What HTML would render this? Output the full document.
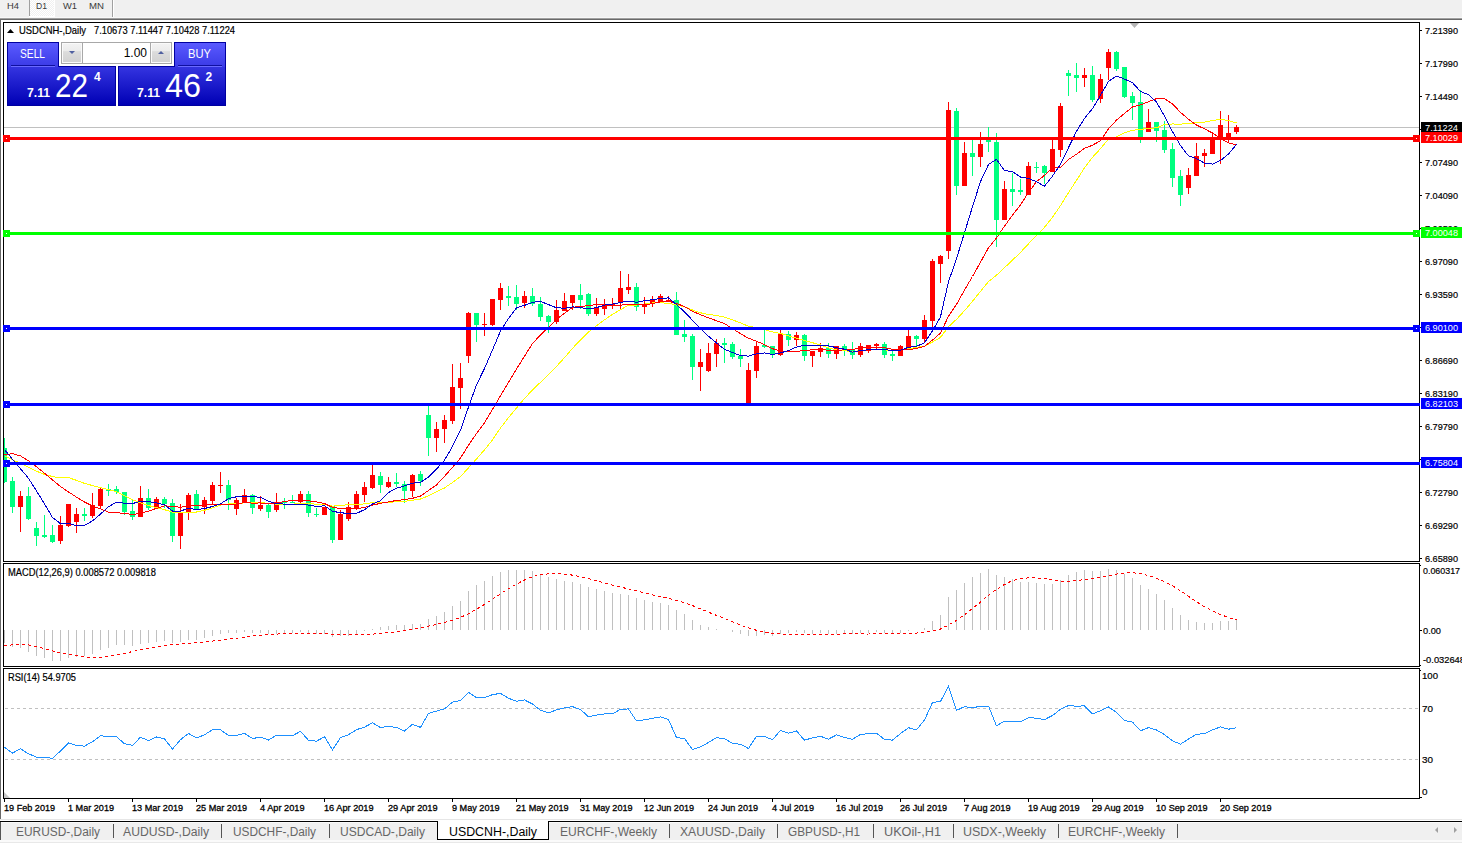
<!DOCTYPE html><html><head><meta charset="utf-8"><title>USDCNH-,Daily</title><style>html,body{margin:0;padding:0;width:1462px;height:843px;overflow:hidden;background:#fff}svg{display:block}</style></head><body>
<svg width="1462" height="843" viewBox="0 0 1462 843" shape-rendering="crispEdges">
<defs><pattern id="dith" width="2" height="2" patternUnits="userSpaceOnUse"><rect width="2" height="2" fill="#f0f0f0"/><rect width="1" height="1" fill="#fff"/><rect x="1" y="1" width="1" height="1" fill="#fff"/></pattern><linearGradient id="gh" x1="0" y1="0" x2="0" y2="1"><stop offset="0" stop-color="#5a5aff"/><stop offset="1" stop-color="#3a3ae6"/></linearGradient><linearGradient id="gp" x1="0" y1="0" x2="0" y2="1"><stop offset="0" stop-color="#3434e0"/><stop offset="1" stop-color="#0000b4"/></linearGradient><linearGradient id="gs" x1="0" y1="0" x2="0" y2="1"><stop offset="0" stop-color="#f2f2f2"/><stop offset="0.4" stop-color="#ebebeb"/><stop offset="0.42" stop-color="#dcdcdc"/><stop offset="1" stop-color="#d2d2d2"/></linearGradient><clipPath id="cm"><rect x="4" y="23" width="1415" height="538"/></clipPath><clipPath id="cmacd"><rect x="4" y="564" width="1415" height="102"/></clipPath><clipPath id="crsi"><rect x="4" y="669" width="1415" height="129"/></clipPath></defs>
<rect x="0" y="0" width="1462" height="17" fill="#f0f0f0" />
<rect x="0" y="17" width="1462" height="1" fill="#f7f7f7" />
<rect x="0" y="18" width="1462" height="1" fill="#a0a0a0" />
<rect x="0" y="19" width="1462" height="1" fill="#696969" />
<rect x="29" y="0" width="1" height="16" fill="#a0a0a0" />
<rect x="30" y="0" width="24" height="16" fill="url(#dith)" />
<rect x="54" y="0" width="1" height="17" fill="#fff" />
<rect x="29" y="16" width="26" height="1" fill="#fff" />
<rect x="112" y="0" width="1" height="17" fill="#a0a0a0" />
<rect x="113" y="0" width="1" height="17" fill="#fff" />
<text x="7" y="9.4" font-family="Liberation Sans, Arial, sans-serif" font-size="9.6" fill="#3a3a3a" textLength="12" lengthAdjust="spacingAndGlyphs">H4</text>
<text x="36" y="9.4" font-family="Liberation Sans, Arial, sans-serif" font-size="9.6" fill="#3a3a3a" textLength="11" lengthAdjust="spacingAndGlyphs">D1</text>
<text x="63" y="9.4" font-family="Liberation Sans, Arial, sans-serif" font-size="9.6" fill="#3a3a3a" textLength="14" lengthAdjust="spacingAndGlyphs">W1</text>
<text x="89" y="9.4" font-family="Liberation Sans, Arial, sans-serif" font-size="9.6" fill="#3a3a3a" textLength="15" lengthAdjust="spacingAndGlyphs">MN</text>
<rect x="0" y="20" width="1462" height="799" fill="#fff" />
<rect x="0" y="19" width="1" height="800" fill="#696969" />
<rect x="3.5" y="22.5" width="1416" height="539" fill="none" stroke="#000" stroke-width="1"/>
<rect x="3.5" y="563.5" width="1416" height="103" fill="none" stroke="#000" stroke-width="1"/>
<rect x="3.5" y="668.5" width="1416" height="130" fill="none" stroke="#000" stroke-width="1"/>
<rect x="1420" y="30" width="2" height="1" fill="#000" />
<text x="1425" y="34" font-family="Liberation Sans, Arial, sans-serif" font-size="9.6" fill="#000" stroke="#000" stroke-width="0.2" textLength="33" lengthAdjust="spacingAndGlyphs">7.21390</text>
<rect x="1420" y="63" width="2" height="1" fill="#000" />
<text x="1425" y="67" font-family="Liberation Sans, Arial, sans-serif" font-size="9.6" fill="#000" stroke="#000" stroke-width="0.2" textLength="33" lengthAdjust="spacingAndGlyphs">7.17990</text>
<rect x="1420" y="96" width="2" height="1" fill="#000" />
<text x="1425" y="100" font-family="Liberation Sans, Arial, sans-serif" font-size="9.6" fill="#000" stroke="#000" stroke-width="0.2" textLength="33" lengthAdjust="spacingAndGlyphs">7.14490</text>
<rect x="1420" y="129" width="2" height="1" fill="#000" />
<text x="1425" y="133" font-family="Liberation Sans, Arial, sans-serif" font-size="9.6" fill="#000" stroke="#000" stroke-width="0.2" textLength="33" lengthAdjust="spacingAndGlyphs">7.10990</text>
<rect x="1420" y="162" width="2" height="1" fill="#000" />
<text x="1425" y="166" font-family="Liberation Sans, Arial, sans-serif" font-size="9.6" fill="#000" stroke="#000" stroke-width="0.2" textLength="33" lengthAdjust="spacingAndGlyphs">7.07490</text>
<rect x="1420" y="195" width="2" height="1" fill="#000" />
<text x="1425" y="199" font-family="Liberation Sans, Arial, sans-serif" font-size="9.6" fill="#000" stroke="#000" stroke-width="0.2" textLength="33" lengthAdjust="spacingAndGlyphs">7.04090</text>
<rect x="1420" y="228" width="2" height="1" fill="#000" />
<text x="1425" y="232" font-family="Liberation Sans, Arial, sans-serif" font-size="9.6" fill="#000" stroke="#000" stroke-width="0.2" textLength="33" lengthAdjust="spacingAndGlyphs">7.00590</text>
<rect x="1420" y="261" width="2" height="1" fill="#000" />
<text x="1425" y="265" font-family="Liberation Sans, Arial, sans-serif" font-size="9.6" fill="#000" stroke="#000" stroke-width="0.2" textLength="33" lengthAdjust="spacingAndGlyphs">6.97090</text>
<rect x="1420" y="294" width="2" height="1" fill="#000" />
<text x="1425" y="298" font-family="Liberation Sans, Arial, sans-serif" font-size="9.6" fill="#000" stroke="#000" stroke-width="0.2" textLength="33" lengthAdjust="spacingAndGlyphs">6.93590</text>
<rect x="1420" y="327" width="2" height="1" fill="#000" />
<text x="1425" y="331" font-family="Liberation Sans, Arial, sans-serif" font-size="9.6" fill="#000" stroke="#000" stroke-width="0.2" textLength="33" lengthAdjust="spacingAndGlyphs">6.90190</text>
<rect x="1420" y="360" width="2" height="1" fill="#000" />
<text x="1425" y="364" font-family="Liberation Sans, Arial, sans-serif" font-size="9.6" fill="#000" stroke="#000" stroke-width="0.2" textLength="33" lengthAdjust="spacingAndGlyphs">6.86690</text>
<rect x="1420" y="393" width="2" height="1" fill="#000" />
<text x="1425" y="397" font-family="Liberation Sans, Arial, sans-serif" font-size="9.6" fill="#000" stroke="#000" stroke-width="0.2" textLength="33" lengthAdjust="spacingAndGlyphs">6.83190</text>
<rect x="1420" y="426" width="2" height="1" fill="#000" />
<text x="1425" y="430" font-family="Liberation Sans, Arial, sans-serif" font-size="9.6" fill="#000" stroke="#000" stroke-width="0.2" textLength="33" lengthAdjust="spacingAndGlyphs">6.79790</text>
<rect x="1420" y="459" width="2" height="1" fill="#000" />
<text x="1425" y="463" font-family="Liberation Sans, Arial, sans-serif" font-size="9.6" fill="#000" stroke="#000" stroke-width="0.2" textLength="33" lengthAdjust="spacingAndGlyphs">6.76290</text>
<rect x="1420" y="492" width="2" height="1" fill="#000" />
<text x="1425" y="496" font-family="Liberation Sans, Arial, sans-serif" font-size="9.6" fill="#000" stroke="#000" stroke-width="0.2" textLength="33" lengthAdjust="spacingAndGlyphs">6.72790</text>
<rect x="1420" y="525" width="2" height="1" fill="#000" />
<text x="1425" y="529" font-family="Liberation Sans, Arial, sans-serif" font-size="9.6" fill="#000" stroke="#000" stroke-width="0.2" textLength="33" lengthAdjust="spacingAndGlyphs">6.69290</text>
<rect x="1420" y="558" width="2" height="1" fill="#000" />
<text x="1425" y="562" font-family="Liberation Sans, Arial, sans-serif" font-size="9.6" fill="#000" stroke="#000" stroke-width="0.2" textLength="33" lengthAdjust="spacingAndGlyphs">6.65890</text>
<rect x="4" y="799" width="1" height="3" fill="#000" />
<text x="4" y="811.3" font-family="Liberation Sans, Arial, sans-serif" font-size="9.4" fill="#000" stroke="#000" stroke-width="0.3" textLength="51.1" lengthAdjust="spacingAndGlyphs">19 Feb 2019</text>
<rect x="68" y="799" width="1" height="3" fill="#000" />
<text x="68" y="811.3" font-family="Liberation Sans, Arial, sans-serif" font-size="9.4" fill="#000" stroke="#000" stroke-width="0.3" textLength="46.0" lengthAdjust="spacingAndGlyphs">1 Mar 2019</text>
<rect x="132" y="799" width="1" height="3" fill="#000" />
<text x="132" y="811.3" font-family="Liberation Sans, Arial, sans-serif" font-size="9.4" fill="#000" stroke="#000" stroke-width="0.3" textLength="51.1" lengthAdjust="spacingAndGlyphs">13 Mar 2019</text>
<rect x="196" y="799" width="1" height="3" fill="#000" />
<text x="196" y="811.3" font-family="Liberation Sans, Arial, sans-serif" font-size="9.4" fill="#000" stroke="#000" stroke-width="0.3" textLength="51.1" lengthAdjust="spacingAndGlyphs">25 Mar 2019</text>
<rect x="260" y="799" width="1" height="3" fill="#000" />
<text x="260" y="811.3" font-family="Liberation Sans, Arial, sans-serif" font-size="9.4" fill="#000" stroke="#000" stroke-width="0.3" textLength="44.5" lengthAdjust="spacingAndGlyphs">4 Apr 2019</text>
<rect x="324" y="799" width="1" height="3" fill="#000" />
<text x="324" y="811.3" font-family="Liberation Sans, Arial, sans-serif" font-size="9.4" fill="#000" stroke="#000" stroke-width="0.3" textLength="49.6" lengthAdjust="spacingAndGlyphs">16 Apr 2019</text>
<rect x="388" y="799" width="1" height="3" fill="#000" />
<text x="388" y="811.3" font-family="Liberation Sans, Arial, sans-serif" font-size="9.4" fill="#000" stroke="#000" stroke-width="0.3" textLength="49.6" lengthAdjust="spacingAndGlyphs">29 Apr 2019</text>
<rect x="452" y="799" width="1" height="3" fill="#000" />
<text x="452" y="811.3" font-family="Liberation Sans, Arial, sans-serif" font-size="9.4" fill="#000" stroke="#000" stroke-width="0.3" textLength="47.6" lengthAdjust="spacingAndGlyphs">9 May 2019</text>
<rect x="516" y="799" width="1" height="3" fill="#000" />
<text x="516" y="811.3" font-family="Liberation Sans, Arial, sans-serif" font-size="9.4" fill="#000" stroke="#000" stroke-width="0.3" textLength="52.6" lengthAdjust="spacingAndGlyphs">21 May 2019</text>
<rect x="580" y="799" width="1" height="3" fill="#000" />
<text x="580" y="811.3" font-family="Liberation Sans, Arial, sans-serif" font-size="9.4" fill="#000" stroke="#000" stroke-width="0.3" textLength="52.6" lengthAdjust="spacingAndGlyphs">31 May 2019</text>
<rect x="644" y="799" width="1" height="3" fill="#000" />
<text x="644" y="811.3" font-family="Liberation Sans, Arial, sans-serif" font-size="9.4" fill="#000" stroke="#000" stroke-width="0.3" textLength="50.1" lengthAdjust="spacingAndGlyphs">12 Jun 2019</text>
<rect x="708" y="799" width="1" height="3" fill="#000" />
<text x="708" y="811.3" font-family="Liberation Sans, Arial, sans-serif" font-size="9.4" fill="#000" stroke="#000" stroke-width="0.3" textLength="50.1" lengthAdjust="spacingAndGlyphs">24 Jun 2019</text>
<rect x="772" y="799" width="1" height="3" fill="#000" />
<text x="772" y="811.3" font-family="Liberation Sans, Arial, sans-serif" font-size="9.4" fill="#000" stroke="#000" stroke-width="0.3" textLength="42.0" lengthAdjust="spacingAndGlyphs">4 Jul 2019</text>
<rect x="836" y="799" width="1" height="3" fill="#000" />
<text x="836" y="811.3" font-family="Liberation Sans, Arial, sans-serif" font-size="9.4" fill="#000" stroke="#000" stroke-width="0.3" textLength="47.1" lengthAdjust="spacingAndGlyphs">16 Jul 2019</text>
<rect x="900" y="799" width="1" height="3" fill="#000" />
<text x="900" y="811.3" font-family="Liberation Sans, Arial, sans-serif" font-size="9.4" fill="#000" stroke="#000" stroke-width="0.3" textLength="47.1" lengthAdjust="spacingAndGlyphs">26 Jul 2019</text>
<rect x="964" y="799" width="1" height="3" fill="#000" />
<text x="964" y="811.3" font-family="Liberation Sans, Arial, sans-serif" font-size="9.4" fill="#000" stroke="#000" stroke-width="0.3" textLength="46.6" lengthAdjust="spacingAndGlyphs">7 Aug 2019</text>
<rect x="1028" y="799" width="1" height="3" fill="#000" />
<text x="1028" y="811.3" font-family="Liberation Sans, Arial, sans-serif" font-size="9.4" fill="#000" stroke="#000" stroke-width="0.3" textLength="51.6" lengthAdjust="spacingAndGlyphs">19 Aug 2019</text>
<rect x="1092" y="799" width="1" height="3" fill="#000" />
<text x="1092" y="811.3" font-family="Liberation Sans, Arial, sans-serif" font-size="9.4" fill="#000" stroke="#000" stroke-width="0.3" textLength="51.6" lengthAdjust="spacingAndGlyphs">29 Aug 2019</text>
<rect x="1156" y="799" width="1" height="3" fill="#000" />
<text x="1156" y="811.3" font-family="Liberation Sans, Arial, sans-serif" font-size="9.4" fill="#000" stroke="#000" stroke-width="0.3" textLength="51.6" lengthAdjust="spacingAndGlyphs">10 Sep 2019</text>
<rect x="1220" y="799" width="1" height="3" fill="#000" />
<text x="1220" y="811.3" font-family="Liberation Sans, Arial, sans-serif" font-size="9.4" fill="#000" stroke="#000" stroke-width="0.3" textLength="51.6" lengthAdjust="spacingAndGlyphs">20 Sep 2019</text>
<g clip-path="url(#cm)">
<rect x="4" y="127" width="1415" height="1" fill="#c0c0c0" />
<rect x="4" y="438" width="1" height="45" fill="#00ff7f" />
<rect x="2" y="448" width="5" height="34" fill="#00ff7f" />
<rect x="12" y="477" width="1" height="36" fill="#00ff7f" />
<rect x="10" y="481" width="5" height="26" fill="#00ff7f" />
<rect x="20" y="491" width="1" height="41" fill="#ff0000" />
<rect x="18" y="496" width="5" height="11" fill="#ff0000" />
<rect x="28" y="487" width="1" height="33" fill="#00ff7f" />
<rect x="26" y="496" width="5" height="23" fill="#00ff7f" />
<rect x="36" y="522" width="1" height="24" fill="#00ff7f" />
<rect x="34" y="528" width="5" height="8" fill="#00ff7f" />
<rect x="44" y="515" width="1" height="23" fill="#00ff7f" />
<rect x="42" y="535" width="5" height="2" fill="#00ff7f" />
<rect x="52" y="525" width="1" height="18" fill="#00ff7f" />
<rect x="50" y="535" width="5" height="7" fill="#00ff7f" />
<rect x="60" y="516" width="1" height="28" fill="#ff0000" />
<rect x="58" y="525" width="5" height="16" fill="#ff0000" />
<rect x="68" y="504" width="1" height="23" fill="#ff0000" />
<rect x="66" y="504" width="5" height="22" fill="#ff0000" />
<rect x="76" y="508" width="1" height="25" fill="#ff0000" />
<rect x="74" y="514" width="5" height="8" fill="#ff0000" />
<rect x="84" y="508" width="1" height="13" fill="#00ff7f" />
<rect x="82" y="514" width="5" height="2" fill="#00ff7f" />
<rect x="92" y="493" width="1" height="25" fill="#ff0000" />
<rect x="90" y="505" width="5" height="11" fill="#ff0000" />
<rect x="100" y="487" width="1" height="22" fill="#ff0000" />
<rect x="98" y="489" width="5" height="17" fill="#ff0000" />
<rect x="108" y="484" width="1" height="12" fill="#00ff7f" />
<rect x="106" y="489" width="5" height="2" fill="#00ff7f" />
<rect x="116" y="486" width="1" height="8" fill="#00ff7f" />
<rect x="114" y="489" width="5" height="3" fill="#00ff7f" />
<rect x="124" y="492" width="1" height="23" fill="#00ff7f" />
<rect x="122" y="492" width="5" height="20" fill="#00ff7f" />
<rect x="132" y="500" width="1" height="20" fill="#00ff7f" />
<rect x="130" y="511" width="5" height="6" fill="#00ff7f" />
<rect x="140" y="486" width="1" height="31" fill="#ff0000" />
<rect x="138" y="498" width="5" height="19" fill="#ff0000" />
<rect x="148" y="489" width="1" height="21" fill="#00ff7f" />
<rect x="146" y="498" width="5" height="10" fill="#00ff7f" />
<rect x="156" y="497" width="1" height="12" fill="#ff0000" />
<rect x="154" y="499" width="5" height="10" fill="#ff0000" />
<rect x="164" y="497" width="1" height="11" fill="#00ff7f" />
<rect x="162" y="499" width="5" height="5" fill="#00ff7f" />
<rect x="172" y="499" width="1" height="43" fill="#00ff7f" />
<rect x="170" y="503" width="5" height="33" fill="#00ff7f" />
<rect x="180" y="504" width="1" height="45" fill="#ff0000" />
<rect x="178" y="513" width="5" height="23" fill="#ff0000" />
<rect x="188" y="493" width="1" height="27" fill="#ff0000" />
<rect x="186" y="495" width="5" height="18" fill="#ff0000" />
<rect x="196" y="490" width="1" height="19" fill="#00ff7f" />
<rect x="194" y="494" width="5" height="15" fill="#00ff7f" />
<rect x="204" y="497" width="1" height="17" fill="#ff0000" />
<rect x="202" y="500" width="5" height="7" fill="#ff0000" />
<rect x="212" y="482" width="1" height="22" fill="#ff0000" />
<rect x="210" y="485" width="5" height="16" fill="#ff0000" />
<rect x="220" y="472" width="1" height="21" fill="#ff0000" />
<rect x="218" y="485" width="5" height="1" fill="#ff0000" />
<rect x="228" y="480" width="1" height="30" fill="#00ff7f" />
<rect x="226" y="485" width="5" height="15" fill="#00ff7f" />
<rect x="236" y="498" width="1" height="17" fill="#ff0000" />
<rect x="234" y="500" width="5" height="9" fill="#ff0000" />
<rect x="244" y="489" width="1" height="13" fill="#ff0000" />
<rect x="242" y="495" width="5" height="7" fill="#ff0000" />
<rect x="252" y="494" width="1" height="20" fill="#00ff7f" />
<rect x="250" y="495" width="5" height="13" fill="#00ff7f" />
<rect x="260" y="496" width="1" height="15" fill="#ff0000" />
<rect x="258" y="505" width="5" height="4" fill="#ff0000" />
<rect x="268" y="504" width="1" height="14" fill="#00ff7f" />
<rect x="266" y="505" width="5" height="7" fill="#00ff7f" />
<rect x="276" y="493" width="1" height="19" fill="#ff0000" />
<rect x="274" y="502" width="5" height="8" fill="#ff0000" />
<rect x="284" y="498" width="1" height="11" fill="#00ff7f" />
<rect x="282" y="501" width="5" height="2" fill="#00ff7f" />
<rect x="292" y="495" width="1" height="8" fill="#00ff7f" />
<rect x="290" y="502" width="5" height="1" fill="#00ff7f" />
<rect x="300" y="491" width="1" height="14" fill="#ff0000" />
<rect x="298" y="494" width="5" height="8" fill="#ff0000" />
<rect x="308" y="491" width="1" height="26" fill="#00ff7f" />
<rect x="306" y="494" width="5" height="19" fill="#00ff7f" />
<rect x="316" y="508" width="1" height="9" fill="#00ff7f" />
<rect x="314" y="514" width="5" height="1" fill="#00ff7f" />
<rect x="324" y="507" width="1" height="8" fill="#ff0000" />
<rect x="322" y="507" width="5" height="8" fill="#ff0000" />
<rect x="332" y="506" width="1" height="37" fill="#00ff7f" />
<rect x="330" y="506" width="5" height="34" fill="#00ff7f" />
<rect x="340" y="510" width="1" height="30" fill="#ff0000" />
<rect x="338" y="514" width="5" height="26" fill="#ff0000" />
<rect x="348" y="502" width="1" height="19" fill="#ff0000" />
<rect x="346" y="507" width="5" height="12" fill="#ff0000" />
<rect x="356" y="491" width="1" height="19" fill="#ff0000" />
<rect x="354" y="494" width="5" height="14" fill="#ff0000" />
<rect x="364" y="482" width="1" height="20" fill="#ff0000" />
<rect x="362" y="487" width="5" height="8" fill="#ff0000" />
<rect x="372" y="465" width="1" height="24" fill="#ff0000" />
<rect x="370" y="475" width="5" height="13" fill="#ff0000" />
<rect x="380" y="472" width="1" height="21" fill="#00ff7f" />
<rect x="378" y="476" width="5" height="9" fill="#00ff7f" />
<rect x="388" y="477" width="1" height="11" fill="#ff0000" />
<rect x="386" y="482" width="5" height="5" fill="#ff0000" />
<rect x="396" y="473" width="1" height="14" fill="#00ff7f" />
<rect x="394" y="482" width="5" height="2" fill="#00ff7f" />
<rect x="404" y="481" width="1" height="22" fill="#00ff7f" />
<rect x="402" y="484" width="5" height="7" fill="#00ff7f" />
<rect x="412" y="474" width="1" height="23" fill="#ff0000" />
<rect x="410" y="475" width="5" height="16" fill="#ff0000" />
<rect x="420" y="471" width="1" height="15" fill="#00ff7f" />
<rect x="418" y="474" width="5" height="7" fill="#00ff7f" />
<rect x="428" y="406" width="1" height="50" fill="#00ff7f" />
<rect x="426" y="415" width="5" height="23" fill="#00ff7f" />
<rect x="436" y="422" width="1" height="30" fill="#ff0000" />
<rect x="434" y="429" width="5" height="9" fill="#ff0000" />
<rect x="444" y="415" width="1" height="28" fill="#ff0000" />
<rect x="442" y="420" width="5" height="9" fill="#ff0000" />
<rect x="452" y="364" width="1" height="60" fill="#ff0000" />
<rect x="450" y="387" width="5" height="34" fill="#ff0000" />
<rect x="460" y="363" width="1" height="46" fill="#ff0000" />
<rect x="458" y="378" width="5" height="10" fill="#ff0000" />
<rect x="468" y="312" width="1" height="51" fill="#ff0000" />
<rect x="466" y="313" width="5" height="43" fill="#ff0000" />
<rect x="476" y="313" width="1" height="29" fill="#00ff7f" />
<rect x="474" y="313" width="5" height="12" fill="#00ff7f" />
<rect x="484" y="313" width="1" height="23" fill="#ff0000" />
<rect x="482" y="324" width="5" height="1" fill="#ff0000" />
<rect x="492" y="299" width="1" height="27" fill="#ff0000" />
<rect x="490" y="299" width="5" height="26" fill="#ff0000" />
<rect x="500" y="283" width="1" height="27" fill="#ff0000" />
<rect x="498" y="288" width="5" height="12" fill="#ff0000" />
<rect x="508" y="286" width="1" height="20" fill="#00ff7f" />
<rect x="506" y="296" width="5" height="2" fill="#00ff7f" />
<rect x="516" y="285" width="1" height="25" fill="#00ff7f" />
<rect x="514" y="297" width="5" height="7" fill="#00ff7f" />
<rect x="524" y="291" width="1" height="17" fill="#ff0000" />
<rect x="522" y="296" width="5" height="7" fill="#ff0000" />
<rect x="532" y="288" width="1" height="18" fill="#00ff7f" />
<rect x="530" y="296" width="5" height="8" fill="#00ff7f" />
<rect x="540" y="297" width="1" height="24" fill="#00ff7f" />
<rect x="538" y="304" width="5" height="13" fill="#00ff7f" />
<rect x="548" y="315" width="1" height="18" fill="#00ff7f" />
<rect x="546" y="316" width="5" height="6" fill="#00ff7f" />
<rect x="556" y="300" width="1" height="24" fill="#ff0000" />
<rect x="554" y="310" width="5" height="12" fill="#ff0000" />
<rect x="564" y="293" width="1" height="18" fill="#ff0000" />
<rect x="562" y="301" width="5" height="10" fill="#ff0000" />
<rect x="572" y="295" width="1" height="15" fill="#ff0000" />
<rect x="570" y="295" width="5" height="8" fill="#ff0000" />
<rect x="580" y="284" width="1" height="25" fill="#00ff7f" />
<rect x="578" y="295" width="5" height="5" fill="#00ff7f" />
<rect x="588" y="293" width="1" height="23" fill="#00ff7f" />
<rect x="586" y="294" width="5" height="20" fill="#00ff7f" />
<rect x="596" y="298" width="1" height="18" fill="#ff0000" />
<rect x="594" y="308" width="5" height="6" fill="#ff0000" />
<rect x="604" y="299" width="1" height="16" fill="#ff0000" />
<rect x="602" y="304" width="5" height="5" fill="#ff0000" />
<rect x="612" y="298" width="1" height="11" fill="#ff0000" />
<rect x="610" y="304" width="5" height="1" fill="#ff0000" />
<rect x="620" y="271" width="1" height="38" fill="#ff0000" />
<rect x="618" y="288" width="5" height="14" fill="#ff0000" />
<rect x="628" y="274" width="1" height="20" fill="#ff0000" />
<rect x="626" y="287" width="5" height="3" fill="#ff0000" />
<rect x="636" y="283" width="1" height="28" fill="#00ff7f" />
<rect x="634" y="287" width="5" height="20" fill="#00ff7f" />
<rect x="644" y="297" width="1" height="17" fill="#ff0000" />
<rect x="642" y="304" width="5" height="3" fill="#ff0000" />
<rect x="652" y="296" width="1" height="11" fill="#ff0000" />
<rect x="650" y="300" width="5" height="3" fill="#ff0000" />
<rect x="660" y="294" width="1" height="8" fill="#ff0000" />
<rect x="658" y="296" width="5" height="6" fill="#ff0000" />
<rect x="668" y="296" width="1" height="6" fill="#ff0000" />
<rect x="666" y="300" width="5" height="1" fill="#ff0000" />
<rect x="676" y="292" width="1" height="43" fill="#00ff7f" />
<rect x="674" y="300" width="5" height="35" fill="#00ff7f" />
<rect x="684" y="320" width="1" height="22" fill="#00ff7f" />
<rect x="682" y="334" width="5" height="3" fill="#00ff7f" />
<rect x="692" y="334" width="1" height="46" fill="#00ff7f" />
<rect x="690" y="336" width="5" height="31" fill="#00ff7f" />
<rect x="700" y="349" width="1" height="42" fill="#ff0000" />
<rect x="698" y="362" width="5" height="5" fill="#ff0000" />
<rect x="708" y="343" width="1" height="29" fill="#ff0000" />
<rect x="706" y="353" width="5" height="18" fill="#ff0000" />
<rect x="716" y="339" width="1" height="28" fill="#ff0000" />
<rect x="714" y="343" width="5" height="11" fill="#ff0000" />
<rect x="724" y="338" width="1" height="25" fill="#00ff7f" />
<rect x="722" y="343" width="5" height="2" fill="#00ff7f" />
<rect x="732" y="342" width="1" height="17" fill="#00ff7f" />
<rect x="730" y="344" width="5" height="13" fill="#00ff7f" />
<rect x="740" y="349" width="1" height="18" fill="#00ff7f" />
<rect x="738" y="356" width="5" height="3" fill="#00ff7f" />
<rect x="748" y="363" width="1" height="41" fill="#ff0000" />
<rect x="746" y="370" width="5" height="33" fill="#ff0000" />
<rect x="756" y="341" width="1" height="37" fill="#ff0000" />
<rect x="754" y="346" width="5" height="25" fill="#ff0000" />
<rect x="764" y="330" width="1" height="18" fill="#00ff7f" />
<rect x="762" y="345" width="5" height="2" fill="#00ff7f" />
<rect x="772" y="346" width="1" height="12" fill="#00ff7f" />
<rect x="770" y="346" width="5" height="8" fill="#00ff7f" />
<rect x="780" y="330" width="1" height="26" fill="#ff0000" />
<rect x="778" y="334" width="5" height="21" fill="#ff0000" />
<rect x="788" y="331" width="1" height="15" fill="#00ff7f" />
<rect x="786" y="334" width="5" height="6" fill="#00ff7f" />
<rect x="796" y="332" width="1" height="14" fill="#ff0000" />
<rect x="794" y="335" width="5" height="5" fill="#ff0000" />
<rect x="804" y="334" width="1" height="27" fill="#00ff7f" />
<rect x="802" y="335" width="5" height="21" fill="#00ff7f" />
<rect x="812" y="351" width="1" height="16" fill="#ff0000" />
<rect x="810" y="351" width="5" height="5" fill="#ff0000" />
<rect x="820" y="343" width="1" height="14" fill="#ff0000" />
<rect x="818" y="348" width="5" height="4" fill="#ff0000" />
<rect x="828" y="343" width="1" height="15" fill="#00ff7f" />
<rect x="826" y="348" width="5" height="6" fill="#00ff7f" />
<rect x="836" y="346" width="1" height="13" fill="#ff0000" />
<rect x="834" y="346" width="5" height="8" fill="#ff0000" />
<rect x="844" y="344" width="1" height="12" fill="#00ff7f" />
<rect x="842" y="346" width="5" height="5" fill="#00ff7f" />
<rect x="852" y="342" width="1" height="17" fill="#00ff7f" />
<rect x="850" y="350" width="5" height="5" fill="#00ff7f" />
<rect x="860" y="343" width="1" height="14" fill="#ff0000" />
<rect x="858" y="346" width="5" height="9" fill="#ff0000" />
<rect x="868" y="345" width="1" height="8" fill="#ff0000" />
<rect x="866" y="345" width="5" height="6" fill="#ff0000" />
<rect x="876" y="343" width="1" height="7" fill="#ff0000" />
<rect x="874" y="344" width="5" height="2" fill="#ff0000" />
<rect x="884" y="342" width="1" height="16" fill="#00ff7f" />
<rect x="882" y="344" width="5" height="11" fill="#00ff7f" />
<rect x="892" y="350" width="1" height="11" fill="#00ff7f" />
<rect x="890" y="354" width="5" height="2" fill="#00ff7f" />
<rect x="900" y="345" width="1" height="11" fill="#ff0000" />
<rect x="898" y="346" width="5" height="10" fill="#ff0000" />
<rect x="908" y="330" width="1" height="20" fill="#ff0000" />
<rect x="906" y="336" width="5" height="13" fill="#ff0000" />
<rect x="916" y="335" width="1" height="11" fill="#00ff7f" />
<rect x="914" y="336" width="5" height="3" fill="#00ff7f" />
<rect x="924" y="315" width="1" height="27" fill="#ff0000" />
<rect x="922" y="320" width="5" height="19" fill="#ff0000" />
<rect x="932" y="259" width="1" height="68" fill="#ff0000" />
<rect x="930" y="261" width="5" height="60" fill="#ff0000" />
<rect x="940" y="255" width="1" height="28" fill="#ff0000" />
<rect x="938" y="256" width="5" height="8" fill="#ff0000" />
<rect x="948" y="102" width="1" height="157" fill="#ff0000" />
<rect x="946" y="110" width="5" height="141" fill="#ff0000" />
<rect x="956" y="108" width="1" height="87" fill="#00ff7f" />
<rect x="954" y="111" width="5" height="75" fill="#00ff7f" />
<rect x="964" y="142" width="1" height="44" fill="#ff0000" />
<rect x="962" y="153" width="5" height="33" fill="#ff0000" />
<rect x="972" y="139" width="1" height="37" fill="#00ff7f" />
<rect x="970" y="153" width="5" height="4" fill="#00ff7f" />
<rect x="980" y="132" width="1" height="35" fill="#ff0000" />
<rect x="978" y="144" width="5" height="13" fill="#ff0000" />
<rect x="988" y="127" width="1" height="25" fill="#00ff7f" />
<rect x="986" y="139" width="5" height="3" fill="#00ff7f" />
<rect x="996" y="133" width="1" height="114" fill="#00ff7f" />
<rect x="994" y="142" width="5" height="78" fill="#00ff7f" />
<rect x="1004" y="181" width="1" height="39" fill="#ff0000" />
<rect x="1002" y="189" width="5" height="31" fill="#ff0000" />
<rect x="1012" y="173" width="1" height="33" fill="#00ff7f" />
<rect x="1010" y="189" width="5" height="3" fill="#00ff7f" />
<rect x="1020" y="179" width="1" height="16" fill="#00ff7f" />
<rect x="1018" y="190" width="5" height="2" fill="#00ff7f" />
<rect x="1028" y="162" width="1" height="33" fill="#ff0000" />
<rect x="1026" y="166" width="5" height="29" fill="#ff0000" />
<rect x="1036" y="162" width="1" height="11" fill="#00ff7f" />
<rect x="1034" y="167" width="5" height="1" fill="#00ff7f" />
<rect x="1044" y="165" width="1" height="19" fill="#00ff7f" />
<rect x="1042" y="166" width="5" height="7" fill="#00ff7f" />
<rect x="1052" y="140" width="1" height="32" fill="#ff0000" />
<rect x="1050" y="149" width="5" height="23" fill="#ff0000" />
<rect x="1060" y="103" width="1" height="54" fill="#ff0000" />
<rect x="1058" y="106" width="5" height="44" fill="#ff0000" />
<rect x="1068" y="70" width="1" height="26" fill="#00ff7f" />
<rect x="1066" y="73" width="5" height="3" fill="#00ff7f" />
<rect x="1076" y="63" width="1" height="29" fill="#00ff7f" />
<rect x="1074" y="75" width="5" height="3" fill="#00ff7f" />
<rect x="1084" y="68" width="1" height="19" fill="#ff0000" />
<rect x="1082" y="75" width="5" height="3" fill="#ff0000" />
<rect x="1092" y="66" width="1" height="36" fill="#00ff7f" />
<rect x="1090" y="75" width="5" height="25" fill="#00ff7f" />
<rect x="1100" y="74" width="1" height="29" fill="#ff0000" />
<rect x="1098" y="79" width="5" height="20" fill="#ff0000" />
<rect x="1108" y="49" width="1" height="31" fill="#ff0000" />
<rect x="1106" y="52" width="5" height="16" fill="#ff0000" />
<rect x="1116" y="51" width="1" height="20" fill="#00ff7f" />
<rect x="1114" y="52" width="5" height="17" fill="#00ff7f" />
<rect x="1124" y="67" width="1" height="31" fill="#00ff7f" />
<rect x="1122" y="67" width="5" height="30" fill="#00ff7f" />
<rect x="1132" y="92" width="1" height="28" fill="#00ff7f" />
<rect x="1130" y="96" width="5" height="7" fill="#00ff7f" />
<rect x="1140" y="90" width="1" height="53" fill="#00ff7f" />
<rect x="1138" y="102" width="5" height="35" fill="#00ff7f" />
<rect x="1148" y="109" width="1" height="23" fill="#ff0000" />
<rect x="1146" y="122" width="5" height="10" fill="#ff0000" />
<rect x="1156" y="122" width="1" height="20" fill="#00ff7f" />
<rect x="1154" y="122" width="5" height="9" fill="#00ff7f" />
<rect x="1164" y="121" width="1" height="32" fill="#00ff7f" />
<rect x="1162" y="130" width="5" height="20" fill="#00ff7f" />
<rect x="1172" y="143" width="1" height="44" fill="#00ff7f" />
<rect x="1170" y="149" width="5" height="29" fill="#00ff7f" />
<rect x="1180" y="170" width="1" height="36" fill="#00ff7f" />
<rect x="1178" y="176" width="5" height="19" fill="#00ff7f" />
<rect x="1188" y="168" width="1" height="26" fill="#ff0000" />
<rect x="1186" y="175" width="5" height="13" fill="#ff0000" />
<rect x="1196" y="143" width="1" height="33" fill="#ff0000" />
<rect x="1194" y="156" width="5" height="20" fill="#ff0000" />
<rect x="1204" y="149" width="1" height="18" fill="#ff0000" />
<rect x="1202" y="153" width="5" height="3" fill="#ff0000" />
<rect x="1212" y="134" width="1" height="20" fill="#ff0000" />
<rect x="1210" y="138" width="5" height="16" fill="#ff0000" />
<rect x="1220" y="111" width="1" height="53" fill="#ff0000" />
<rect x="1218" y="125" width="5" height="15" fill="#ff0000" />
<rect x="1228" y="115" width="1" height="28" fill="#ff0000" />
<rect x="1226" y="133" width="5" height="6" fill="#ff0000" />
<rect x="1236" y="125" width="1" height="9" fill="#ff0000" />
<rect x="1234" y="127" width="5" height="5" fill="#ff0000" />
<polyline points="4.5,455.73 12.5,459.77 20.5,463.25 28.5,467.25 36.5,471.25 44.5,474.36 52.5,476.56 60.5,477.88 68.5,477.62 76.5,480.35 84.5,483.37 92.5,485.52 100.5,487.53 108.5,489.56 116.5,491.72 124.5,495.94 132.5,499.77 140.5,502.90 148.5,505.47 156.5,507.57 164.5,509.69 172.5,512.26 180.5,512.55 188.5,512.50 196.5,512.02 204.5,510.31 212.5,507.83 220.5,505.12 228.5,503.93 236.5,503.74 244.5,502.83 252.5,502.45 260.5,502.45 268.5,503.55 276.5,504.07 284.5,504.60 292.5,504.17 300.5,503.07 308.5,503.79 316.5,504.12 324.5,504.50 332.5,506.21 340.5,505.17 348.5,504.88 356.5,504.83 364.5,503.79 372.5,502.60 380.5,502.60 388.5,502.45 396.5,501.69 404.5,501.26 412.5,500.31 420.5,499.02 428.5,495.83 436.5,491.88 444.5,487.98 452.5,482.45 460.5,476.50 468.5,467.88 476.5,458.93 484.5,449.83 492.5,439.93 500.5,427.93 508.5,417.64 516.5,407.98 524.5,398.55 532.5,389.83 540.5,382.31 548.5,374.55 556.5,366.36 564.5,357.64 572.5,348.31 580.5,339.98 588.5,332.02 596.5,325.83 604.5,319.88 612.5,314.36 620.5,309.64 628.5,305.31 636.5,305.02 644.5,304.02 652.5,302.88 660.5,302.74 668.5,303.31 676.5,305.07 684.5,306.64 692.5,310.02 700.5,312.79 708.5,314.50 716.5,315.50 724.5,317.17 732.5,319.83 740.5,322.88 748.5,326.21 756.5,327.74 764.5,329.60 772.5,331.98 780.5,333.40 788.5,335.88 796.5,338.17 804.5,340.50 812.5,342.74 820.5,345.02 828.5,347.79 836.5,349.98 844.5,350.74 852.5,351.60 860.5,350.60 868.5,349.79 876.5,349.36 884.5,349.93 892.5,350.45 900.5,349.93 908.5,348.83 916.5,347.36 924.5,346.12 932.5,342.02 940.5,337.36 948.5,326.69 956.5,319.36 964.5,310.69 972.5,301.21 980.5,291.36 988.5,281.55 996.5,275.17 1004.5,267.69 1012.5,260.12 1020.5,252.36 1028.5,243.79 1036.5,235.36 1044.5,227.21 1052.5,217.40 1060.5,205.50 1068.5,192.64 1076.5,180.36 1084.5,167.79 1092.5,157.31 1100.5,148.64 1108.5,138.93 1116.5,136.98 1124.5,132.74 1132.5,130.36 1140.5,129.40 1148.5,128.36 1156.5,127.83 1164.5,124.50 1172.5,123.98 1180.5,124.12 1188.5,123.31 1196.5,122.83 1204.5,122.12 1212.5,120.45 1220.5,119.31 1228.5,120.60 1236.5,123.02" fill="none" stroke="#ffff00" stroke-width="1" />
<polyline points="4.5,454.93 12.5,453.63 20.5,455.86 28.5,460.79 36.5,466.75 44.5,473.20 52.5,479.99 60.5,486.53 68.5,491.93 76.5,497.11 84.5,501.95 92.5,506.04 100.5,508.96 108.5,512.14 116.5,512.86 124.5,513.21 132.5,514.71 140.5,513.21 148.5,511.21 156.5,508.50 164.5,505.79 172.5,506.57 180.5,507.21 188.5,505.86 196.5,505.36 204.5,505.00 212.5,504.71 220.5,504.29 228.5,504.86 236.5,504.00 244.5,502.43 252.5,503.14 260.5,502.93 268.5,503.86 276.5,503.71 284.5,501.36 292.5,500.64 300.5,500.57 308.5,500.86 316.5,501.93 324.5,503.50 332.5,507.43 340.5,508.43 348.5,508.93 356.5,508.86 364.5,507.36 372.5,505.21 380.5,503.29 388.5,501.86 396.5,500.50 404.5,499.64 412.5,498.29 420.5,496.00 428.5,490.50 436.5,484.93 444.5,476.36 452.5,467.29 460.5,458.07 468.5,445.14 476.5,433.57 484.5,422.79 492.5,409.50 500.5,395.64 508.5,382.36 516.5,369.00 524.5,356.21 532.5,343.57 540.5,334.93 548.5,327.29 556.5,319.43 564.5,313.29 572.5,307.36 580.5,306.43 588.5,305.64 596.5,304.50 604.5,304.86 612.5,306.00 620.5,305.29 628.5,304.07 636.5,304.86 644.5,304.86 652.5,303.64 660.5,301.79 668.5,301.07 676.5,303.50 684.5,306.50 692.5,311.29 700.5,314.71 708.5,317.93 716.5,320.71 724.5,323.64 732.5,328.57 740.5,333.71 748.5,338.21 756.5,341.21 764.5,344.57 772.5,348.71 780.5,351.14 788.5,351.50 796.5,351.36 804.5,350.57 812.5,349.79 820.5,349.43 828.5,350.21 836.5,350.29 844.5,349.86 852.5,349.57 860.5,347.86 868.5,347.79 876.5,347.57 884.5,347.64 892.5,349.21 900.5,349.64 908.5,349.71 916.5,348.50 924.5,346.29 932.5,340.07 940.5,333.07 948.5,316.21 956.5,304.43 964.5,290.00 972.5,276.50 980.5,262.14 988.5,247.71 996.5,238.07 1004.5,226.14 1012.5,215.14 1020.5,204.86 1028.5,192.50 1036.5,181.64 1044.5,175.36 1052.5,167.71 1060.5,167.43 1068.5,159.57 1076.5,154.21 1084.5,148.36 1092.5,145.21 1100.5,140.71 1108.5,128.71 1116.5,120.14 1124.5,113.36 1132.5,107.00 1140.5,104.93 1148.5,101.64 1156.5,98.64 1164.5,98.71 1172.5,103.86 1180.5,112.36 1188.5,119.29 1196.5,125.07 1204.5,128.86 1212.5,133.07 1220.5,138.29 1228.5,142.86 1236.5,145.00" fill="none" stroke="#ff0000" stroke-width="1" />
<polyline points="4.5,449.57 12.5,459.38 20.5,468.73 28.5,478.30 36.5,490.94 44.5,503.87 52.5,517.50 60.5,523.64 68.5,523.21 76.5,525.79 84.5,525.36 92.5,520.93 100.5,514.07 108.5,506.79 116.5,502.07 124.5,503.21 132.5,503.64 140.5,501.07 148.5,501.50 156.5,502.93 164.5,504.79 172.5,511.07 180.5,511.21 188.5,508.07 196.5,509.64 204.5,508.50 212.5,506.50 220.5,503.79 228.5,498.64 236.5,496.79 244.5,496.79 252.5,496.64 260.5,497.36 268.5,501.21 276.5,503.64 284.5,504.07 292.5,504.50 300.5,504.36 308.5,505.07 316.5,506.50 324.5,505.79 332.5,511.21 340.5,512.79 348.5,513.36 356.5,513.36 364.5,509.64 372.5,503.93 380.5,500.79 388.5,492.50 396.5,488.21 404.5,485.93 412.5,483.21 420.5,482.36 428.5,477.07 436.5,469.07 444.5,460.21 452.5,446.36 460.5,430.21 468.5,407.07 476.5,384.79 484.5,368.50 492.5,349.93 500.5,331.07 508.5,318.36 516.5,307.79 524.5,305.36 532.5,302.36 540.5,301.36 548.5,304.64 556.5,307.79 564.5,308.21 572.5,306.93 580.5,307.50 588.5,308.93 596.5,307.64 604.5,305.07 612.5,304.21 620.5,302.36 628.5,301.21 636.5,302.21 644.5,300.79 652.5,299.64 660.5,298.50 668.5,297.93 676.5,304.64 684.5,311.79 692.5,320.36 700.5,328.64 708.5,336.21 716.5,342.93 724.5,349.36 732.5,352.50 740.5,355.64 748.5,356.07 756.5,353.79 764.5,352.93 772.5,354.50 780.5,352.93 788.5,350.50 796.5,347.07 804.5,345.07 812.5,345.79 820.5,345.93 828.5,345.93 836.5,347.64 844.5,349.21 852.5,352.07 860.5,350.64 868.5,349.79 876.5,349.21 884.5,349.36 892.5,350.79 900.5,350.07 908.5,347.36 916.5,346.36 924.5,342.79 932.5,330.93 940.5,316.79 948.5,281.64 956.5,258.79 964.5,232.64 972.5,206.64 980.5,181.50 988.5,164.50 996.5,159.36 1004.5,170.64 1012.5,171.50 1020.5,177.07 1028.5,178.36 1036.5,181.79 1044.5,186.21 1052.5,176.07 1060.5,164.21 1068.5,147.64 1076.5,131.36 1084.5,118.36 1092.5,108.64 1100.5,95.21 1108.5,81.36 1116.5,76.07 1124.5,79.07 1132.5,82.64 1140.5,91.50 1148.5,94.64 1156.5,102.07 1164.5,116.07 1172.5,131.64 1180.5,145.64 1188.5,155.93 1196.5,158.64 1204.5,163.07 1212.5,164.07 1220.5,160.50 1228.5,154.07 1236.5,144.36" fill="none" stroke="#0000cd" stroke-width="1" />
</g>
<rect x="4" y="137" width="1416" height="3" fill="#ff0000" />
<rect x="3" y="135" width="7" height="7" fill="#ff0000" />
<rect x="6" y="138" width="1" height="1" fill="#fff" />
<rect x="1413" y="135" width="7" height="7" fill="#ff0000" />
<rect x="1416" y="138" width="1" height="1" fill="#fff" />
<rect x="4" y="232" width="1416" height="3" fill="#00ff00" />
<rect x="3" y="230" width="7" height="7" fill="#00ff00" />
<rect x="6" y="233" width="1" height="1" fill="#fff" />
<rect x="1413" y="230" width="7" height="7" fill="#00ff00" />
<rect x="1416" y="233" width="1" height="1" fill="#fff" />
<rect x="4" y="327" width="1416" height="3" fill="#0000ff" />
<rect x="3" y="325" width="7" height="7" fill="#0000ff" />
<rect x="6" y="328" width="1" height="1" fill="#fff" />
<rect x="1413" y="325" width="7" height="7" fill="#0000ff" />
<rect x="1416" y="328" width="1" height="1" fill="#fff" />
<rect x="4" y="403" width="1416" height="3" fill="#0000ff" />
<rect x="3" y="401" width="7" height="7" fill="#0000ff" />
<rect x="6" y="404" width="1" height="1" fill="#fff" />
<rect x="4" y="462" width="1416" height="3" fill="#0000ff" />
<rect x="3" y="460" width="7" height="7" fill="#0000ff" />
<rect x="6" y="463" width="1" height="1" fill="#fff" />
<polygon points="1130,23 1139,23 1134.5,28" fill="#b4b4b4" shape-rendering="auto"/>
<polygon points="7,33 14,33 10.5,29" fill="#000" shape-rendering="auto"/>
<text x="19" y="34" font-family="Liberation Sans, Arial, sans-serif" font-size="10.5" fill="#000" stroke="#000" stroke-width="0.2" textLength="67" lengthAdjust="spacingAndGlyphs">USDCNH-,Daily</text>
<text x="94" y="34" font-family="Liberation Sans, Arial, sans-serif" font-size="10.5" fill="#000" stroke="#000" stroke-width="0.2" textLength="141" lengthAdjust="spacingAndGlyphs">7.10673 7.11447 7.10428 7.11224</text>
<rect x="1421" y="122" width="41" height="10" fill="#000" />
<text x="1425" y="131" font-family="Liberation Sans, Arial, sans-serif" font-size="9.6" fill="#fff" textLength="33" lengthAdjust="spacingAndGlyphs">7.11224</text>
<rect x="1421" y="132" width="41" height="11" fill="#ff0000" />
<text x="1425" y="141" font-family="Liberation Sans, Arial, sans-serif" font-size="9.6" fill="#fff" textLength="33" lengthAdjust="spacingAndGlyphs">7.10029</text>
<rect x="1421" y="227" width="41" height="11" fill="#00ff00" />
<text x="1425" y="236" font-family="Liberation Sans, Arial, sans-serif" font-size="9.6" fill="#fff" textLength="33" lengthAdjust="spacingAndGlyphs">7.00048</text>
<rect x="1421" y="322" width="41" height="11" fill="#0000ff" />
<text x="1425" y="331" font-family="Liberation Sans, Arial, sans-serif" font-size="9.6" fill="#fff" textLength="33" lengthAdjust="spacingAndGlyphs">6.90100</text>
<rect x="1421" y="398" width="41" height="11" fill="#0000ff" />
<text x="1425" y="407" font-family="Liberation Sans, Arial, sans-serif" font-size="9.6" fill="#fff" textLength="33" lengthAdjust="spacingAndGlyphs">6.82103</text>
<rect x="1421" y="457" width="41" height="11" fill="#0000ff" />
<text x="1425" y="466" font-family="Liberation Sans, Arial, sans-serif" font-size="9.6" fill="#fff" textLength="33" lengthAdjust="spacingAndGlyphs">6.75804</text>
<g clip-path="url(#cmacd)">
<rect x="4" y="630" width="1" height="13" fill="#c0c0c0" />
<rect x="12" y="630" width="1" height="17" fill="#c0c0c0" />
<rect x="20" y="630" width="1" height="18" fill="#c0c0c0" />
<rect x="28" y="630" width="1" height="22" fill="#c0c0c0" />
<rect x="36" y="630" width="1" height="26" fill="#c0c0c0" />
<rect x="44" y="630" width="1" height="28" fill="#c0c0c0" />
<rect x="52" y="630" width="1" height="31" fill="#c0c0c0" />
<rect x="60" y="630" width="1" height="31" fill="#c0c0c0" />
<rect x="68" y="630" width="1" height="28" fill="#c0c0c0" />
<rect x="76" y="630" width="1" height="27" fill="#c0c0c0" />
<rect x="84" y="630" width="1" height="26" fill="#c0c0c0" />
<rect x="92" y="630" width="1" height="24" fill="#c0c0c0" />
<rect x="100" y="630" width="1" height="20" fill="#c0c0c0" />
<rect x="108" y="630" width="1" height="18" fill="#c0c0c0" />
<rect x="116" y="630" width="1" height="15" fill="#c0c0c0" />
<rect x="124" y="630" width="1" height="15" fill="#c0c0c0" />
<rect x="132" y="630" width="1" height="16" fill="#c0c0c0" />
<rect x="140" y="630" width="1" height="14" fill="#c0c0c0" />
<rect x="148" y="630" width="1" height="13" fill="#c0c0c0" />
<rect x="156" y="630" width="1" height="12" fill="#c0c0c0" />
<rect x="164" y="630" width="1" height="11" fill="#c0c0c0" />
<rect x="172" y="630" width="1" height="13" fill="#c0c0c0" />
<rect x="180" y="630" width="1" height="12" fill="#c0c0c0" />
<rect x="188" y="630" width="1" height="10" fill="#c0c0c0" />
<rect x="196" y="630" width="1" height="10" fill="#c0c0c0" />
<rect x="204" y="630" width="1" height="8" fill="#c0c0c0" />
<rect x="212" y="630" width="1" height="6" fill="#c0c0c0" />
<rect x="220" y="630" width="1" height="4" fill="#c0c0c0" />
<rect x="228" y="630" width="1" height="3" fill="#c0c0c0" />
<rect x="236" y="630" width="1" height="3" fill="#c0c0c0" />
<rect x="244" y="630" width="1" height="2" fill="#c0c0c0" />
<rect x="252" y="630" width="1" height="3" fill="#c0c0c0" />
<rect x="260" y="630" width="1" height="3" fill="#c0c0c0" />
<rect x="268" y="630" width="1" height="4" fill="#c0c0c0" />
<rect x="276" y="630" width="1" height="4" fill="#c0c0c0" />
<rect x="284" y="630" width="1" height="3" fill="#c0c0c0" />
<rect x="292" y="630" width="1" height="3" fill="#c0c0c0" />
<rect x="300" y="630" width="1" height="2" fill="#c0c0c0" />
<rect x="308" y="630" width="1" height="3" fill="#c0c0c0" />
<rect x="316" y="630" width="1" height="4" fill="#c0c0c0" />
<rect x="324" y="630" width="1" height="4" fill="#c0c0c0" />
<rect x="332" y="630" width="1" height="7" fill="#c0c0c0" />
<rect x="340" y="630" width="1" height="6" fill="#c0c0c0" />
<rect x="348" y="630" width="1" height="6" fill="#c0c0c0" />
<rect x="356" y="630" width="1" height="4" fill="#c0c0c0" />
<rect x="364" y="630" width="1" height="1" fill="#c0c0c0" />
<rect x="372" y="629" width="1" height="1" fill="#c0c0c0" />
<rect x="380" y="627" width="1" height="3" fill="#c0c0c0" />
<rect x="388" y="626" width="1" height="4" fill="#c0c0c0" />
<rect x="396" y="625" width="1" height="5" fill="#c0c0c0" />
<rect x="404" y="625" width="1" height="5" fill="#c0c0c0" />
<rect x="412" y="624" width="1" height="6" fill="#c0c0c0" />
<rect x="420" y="624" width="1" height="6" fill="#c0c0c0" />
<rect x="428" y="619" width="1" height="11" fill="#c0c0c0" />
<rect x="436" y="616" width="1" height="14" fill="#c0c0c0" />
<rect x="444" y="612" width="1" height="18" fill="#c0c0c0" />
<rect x="452" y="606" width="1" height="24" fill="#c0c0c0" />
<rect x="460" y="601" width="1" height="29" fill="#c0c0c0" />
<rect x="468" y="591" width="1" height="39" fill="#c0c0c0" />
<rect x="476" y="585" width="1" height="45" fill="#c0c0c0" />
<rect x="484" y="581" width="1" height="49" fill="#c0c0c0" />
<rect x="492" y="576" width="1" height="54" fill="#c0c0c0" />
<rect x="500" y="572" width="1" height="58" fill="#c0c0c0" />
<rect x="508" y="570" width="1" height="60" fill="#c0c0c0" />
<rect x="516" y="570" width="1" height="60" fill="#c0c0c0" />
<rect x="524" y="570" width="1" height="60" fill="#c0c0c0" />
<rect x="532" y="571" width="1" height="59" fill="#c0c0c0" />
<rect x="540" y="574" width="1" height="56" fill="#c0c0c0" />
<rect x="548" y="577" width="1" height="53" fill="#c0c0c0" />
<rect x="556" y="579" width="1" height="51" fill="#c0c0c0" />
<rect x="564" y="581" width="1" height="49" fill="#c0c0c0" />
<rect x="572" y="582" width="1" height="48" fill="#c0c0c0" />
<rect x="580" y="584" width="1" height="46" fill="#c0c0c0" />
<rect x="588" y="587" width="1" height="43" fill="#c0c0c0" />
<rect x="596" y="589" width="1" height="41" fill="#c0c0c0" />
<rect x="604" y="591" width="1" height="39" fill="#c0c0c0" />
<rect x="612" y="593" width="1" height="37" fill="#c0c0c0" />
<rect x="620" y="594" width="1" height="36" fill="#c0c0c0" />
<rect x="628" y="595" width="1" height="35" fill="#c0c0c0" />
<rect x="636" y="598" width="1" height="32" fill="#c0c0c0" />
<rect x="644" y="600" width="1" height="30" fill="#c0c0c0" />
<rect x="652" y="602" width="1" height="28" fill="#c0c0c0" />
<rect x="660" y="603" width="1" height="27" fill="#c0c0c0" />
<rect x="668" y="605" width="1" height="25" fill="#c0c0c0" />
<rect x="676" y="610" width="1" height="20" fill="#c0c0c0" />
<rect x="684" y="614" width="1" height="16" fill="#c0c0c0" />
<rect x="692" y="620" width="1" height="10" fill="#c0c0c0" />
<rect x="700" y="625" width="1" height="5" fill="#c0c0c0" />
<rect x="708" y="627" width="1" height="3" fill="#c0c0c0" />
<rect x="716" y="629" width="1" height="1" fill="#c0c0c0" />
<rect x="732" y="630" width="1" height="2" fill="#c0c0c0" />
<rect x="740" y="630" width="1" height="4" fill="#c0c0c0" />
<rect x="748" y="630" width="1" height="6" fill="#c0c0c0" />
<rect x="756" y="630" width="1" height="6" fill="#c0c0c0" />
<rect x="764" y="630" width="1" height="5" fill="#c0c0c0" />
<rect x="772" y="630" width="1" height="6" fill="#c0c0c0" />
<rect x="780" y="630" width="1" height="4" fill="#c0c0c0" />
<rect x="788" y="630" width="1" height="3" fill="#c0c0c0" />
<rect x="796" y="630" width="1" height="2" fill="#c0c0c0" />
<rect x="804" y="630" width="1" height="3" fill="#c0c0c0" />
<rect x="812" y="630" width="1" height="4" fill="#c0c0c0" />
<rect x="820" y="630" width="1" height="3" fill="#c0c0c0" />
<rect x="828" y="630" width="1" height="4" fill="#c0c0c0" />
<rect x="836" y="630" width="1" height="4" fill="#c0c0c0" />
<rect x="844" y="630" width="1" height="4" fill="#c0c0c0" />
<rect x="852" y="630" width="1" height="4" fill="#c0c0c0" />
<rect x="860" y="630" width="1" height="3" fill="#c0c0c0" />
<rect x="868" y="630" width="1" height="3" fill="#c0c0c0" />
<rect x="876" y="630" width="1" height="2" fill="#c0c0c0" />
<rect x="884" y="630" width="1" height="3" fill="#c0c0c0" />
<rect x="892" y="630" width="1" height="3" fill="#c0c0c0" />
<rect x="900" y="630" width="1" height="3" fill="#c0c0c0" />
<rect x="908" y="630" width="1" height="1" fill="#c0c0c0" />
<rect x="924" y="628" width="1" height="2" fill="#c0c0c0" />
<rect x="932" y="621" width="1" height="9" fill="#c0c0c0" />
<rect x="940" y="615" width="1" height="15" fill="#c0c0c0" />
<rect x="948" y="597" width="1" height="33" fill="#c0c0c0" />
<rect x="956" y="590" width="1" height="40" fill="#c0c0c0" />
<rect x="964" y="583" width="1" height="47" fill="#c0c0c0" />
<rect x="972" y="577" width="1" height="53" fill="#c0c0c0" />
<rect x="980" y="573" width="1" height="57" fill="#c0c0c0" />
<rect x="988" y="569" width="1" height="61" fill="#c0c0c0" />
<rect x="996" y="575" width="1" height="55" fill="#c0c0c0" />
<rect x="1004" y="577" width="1" height="53" fill="#c0c0c0" />
<rect x="1012" y="579" width="1" height="51" fill="#c0c0c0" />
<rect x="1020" y="582" width="1" height="48" fill="#c0c0c0" />
<rect x="1028" y="582" width="1" height="48" fill="#c0c0c0" />
<rect x="1036" y="583" width="1" height="47" fill="#c0c0c0" />
<rect x="1044" y="584" width="1" height="46" fill="#c0c0c0" />
<rect x="1052" y="584" width="1" height="46" fill="#c0c0c0" />
<rect x="1060" y="580" width="1" height="50" fill="#c0c0c0" />
<rect x="1068" y="575" width="1" height="55" fill="#c0c0c0" />
<rect x="1076" y="572" width="1" height="58" fill="#c0c0c0" />
<rect x="1084" y="570" width="1" height="60" fill="#c0c0c0" />
<rect x="1092" y="571" width="1" height="59" fill="#c0c0c0" />
<rect x="1100" y="571" width="1" height="59" fill="#c0c0c0" />
<rect x="1108" y="569" width="1" height="61" fill="#c0c0c0" />
<rect x="1116" y="570" width="1" height="60" fill="#c0c0c0" />
<rect x="1124" y="574" width="1" height="56" fill="#c0c0c0" />
<rect x="1132" y="578" width="1" height="52" fill="#c0c0c0" />
<rect x="1140" y="585" width="1" height="45" fill="#c0c0c0" />
<rect x="1148" y="589" width="1" height="41" fill="#c0c0c0" />
<rect x="1156" y="594" width="1" height="36" fill="#c0c0c0" />
<rect x="1164" y="600" width="1" height="30" fill="#c0c0c0" />
<rect x="1172" y="608" width="1" height="22" fill="#c0c0c0" />
<rect x="1180" y="615" width="1" height="15" fill="#c0c0c0" />
<rect x="1188" y="620" width="1" height="10" fill="#c0c0c0" />
<rect x="1196" y="622" width="1" height="8" fill="#c0c0c0" />
<rect x="1204" y="623" width="1" height="7" fill="#c0c0c0" />
<rect x="1212" y="623" width="1" height="7" fill="#c0c0c0" />
<rect x="1220" y="621" width="1" height="9" fill="#c0c0c0" />
<rect x="1228" y="621" width="1" height="9" fill="#c0c0c0" />
<rect x="1236" y="620" width="1" height="10" fill="#c0c0c0" />
<polyline points="4.5,645.90 12.5,644.80 20.5,644.80 28.5,644.80 36.5,646.70 44.5,648.70 52.5,650.80 60.5,652.80 68.5,654.17 76.5,655.75 84.5,656.80 92.5,657.41 100.5,657.27 108.5,656.41 116.5,654.98 124.5,653.28 132.5,651.60 140.5,649.99 148.5,648.44 156.5,646.85 164.5,645.41 172.5,644.59 180.5,644.01 188.5,643.43 196.5,642.80 204.5,641.99 212.5,641.09 220.5,640.04 228.5,639.11 236.5,638.25 244.5,637.07 252.5,636.02 260.5,635.23 268.5,634.59 276.5,634.07 284.5,633.80 292.5,633.73 300.5,633.58 308.5,633.56 316.5,633.71 324.5,633.78 332.5,634.16 340.5,634.43 348.5,634.65 356.5,634.68 364.5,634.49 372.5,634.11 380.5,633.49 388.5,632.63 396.5,631.70 404.5,630.46 412.5,629.10 420.5,627.78 428.5,626.21 436.5,624.44 444.5,622.57 452.5,620.20 460.5,617.41 468.5,613.63 476.5,609.19 484.5,604.42 492.5,599.13 500.5,593.83 508.5,588.76 516.5,584.09 524.5,580.04 532.5,576.70 540.5,574.73 548.5,573.79 556.5,573.56 564.5,574.05 572.5,575.14 580.5,576.65 588.5,578.55 596.5,580.75 604.5,583.04 612.5,585.25 620.5,587.15 628.5,588.89 636.5,590.80 644.5,592.83 652.5,594.86 660.5,596.67 668.5,598.39 676.5,600.42 684.5,602.69 692.5,605.58 700.5,608.89 708.5,612.20 716.5,615.39 724.5,618.53 732.5,621.73 740.5,624.94 748.5,627.88 756.5,630.30 764.5,631.99 772.5,633.22 780.5,633.96 788.5,634.47 796.5,634.73 804.5,634.87 812.5,634.85 820.5,634.56 828.5,634.36 836.5,634.16 844.5,633.93 852.5,633.92 860.5,633.94 868.5,634.01 876.5,633.91 884.5,633.83 892.5,633.81 900.5,633.67 908.5,633.43 916.5,633.09 924.5,632.43 932.5,631.04 940.5,629.04 948.5,625.11 956.5,620.39 964.5,614.74 972.5,608.58 980.5,602.06 988.5,595.28 996.5,589.36 1004.5,584.45 1012.5,580.49 1020.5,578.78 1028.5,577.83 1036.5,577.84 1044.5,578.61 1052.5,579.85 1060.5,581.04 1068.5,581.08 1076.5,580.54 1084.5,579.51 1092.5,578.34 1100.5,577.15 1108.5,575.64 1116.5,574.03 1124.5,572.89 1132.5,572.62 1140.5,573.68 1148.5,575.61 1156.5,578.32 1164.5,581.54 1172.5,585.62 1180.5,590.78 1188.5,596.35 1196.5,601.70 1204.5,606.73 1212.5,610.95 1220.5,614.51 1228.5,617.50 1236.5,619.76" fill="none" stroke="#ff0000" stroke-width="1" stroke-dasharray="3,3"/>
</g>
<text x="8" y="576" font-family="Liberation Sans, Arial, sans-serif" font-size="10" fill="#000" stroke="#000" stroke-width="0.2" textLength="148" lengthAdjust="spacingAndGlyphs">MACD(12,26,9) 0.008572 0.009818</text>
<text x="1423" y="574" font-family="Liberation Sans, Arial, sans-serif" font-size="9.6" fill="#000" stroke="#000" stroke-width="0.2" textLength="37" lengthAdjust="spacingAndGlyphs">0.060317</text>
<text x="1423" y="634" font-family="Liberation Sans, Arial, sans-serif" font-size="9.6" fill="#000" stroke="#000" stroke-width="0.2" textLength="18" lengthAdjust="spacingAndGlyphs">0.00</text>
<text x="1423" y="663" font-family="Liberation Sans, Arial, sans-serif" font-size="9.6" fill="#000" stroke="#000" stroke-width="0.2" textLength="42" lengthAdjust="spacingAndGlyphs">-0.032648</text>
<rect x="1420" y="565" width="1" height="1" fill="#000" />
<rect x="1420" y="630" width="2" height="1" fill="#000" />
<rect x="1420" y="665" width="1" height="1" fill="#000" />
<line x1="5" y1="708.5" x2="1419" y2="708.5" stroke="#c0c0c0" stroke-width="1" stroke-dasharray="3,3"/>
<line x1="5" y1="759.5" x2="1419" y2="759.5" stroke="#c0c0c0" stroke-width="1" stroke-dasharray="3,3"/>
<g clip-path="url(#crsi)">
<polyline points="4.5,747.37 12.5,753.00 20.5,748.83 28.5,753.80 36.5,757.09 44.5,757.28 52.5,758.28 60.5,750.95 68.5,742.90 76.5,745.57 84.5,746.11 92.5,741.72 100.5,735.79 108.5,736.47 116.5,736.83 124.5,743.71 132.5,745.30 140.5,737.22 148.5,740.70 156.5,736.98 164.5,738.84 172.5,749.09 180.5,739.73 188.5,733.41 196.5,737.96 204.5,734.80 212.5,729.81 220.5,729.81 228.5,735.40 236.5,735.40 244.5,733.39 252.5,738.50 260.5,737.18 268.5,739.99 276.5,735.34 284.5,735.79 292.5,735.79 300.5,731.26 308.5,740.28 316.5,741.15 324.5,736.81 332.5,749.83 340.5,737.61 348.5,734.74 356.5,729.68 364.5,727.10 372.5,722.88 380.5,727.56 388.5,726.43 396.5,727.43 404.5,730.95 412.5,724.29 420.5,727.41 428.5,713.32 436.5,711.06 444.5,708.87 452.5,702.14 460.5,700.59 468.5,692.29 476.5,697.76 484.5,697.63 492.5,694.62 500.5,693.41 508.5,698.27 516.5,701.18 524.5,699.94 532.5,704.00 540.5,710.36 548.5,712.74 556.5,709.95 564.5,707.95 572.5,706.64 580.5,709.41 588.5,716.84 596.5,715.10 604.5,713.94 612.5,713.94 620.5,709.23 628.5,708.95 636.5,720.89 644.5,719.82 652.5,718.35 660.5,716.87 668.5,719.47 676.5,737.68 684.5,738.53 692.5,749.51 700.5,746.95 708.5,742.44 716.5,737.70 724.5,738.54 732.5,743.43 740.5,744.22 748.5,748.48 756.5,736.15 764.5,736.58 772.5,739.66 780.5,730.36 788.5,733.16 796.5,730.90 804.5,740.23 812.5,737.81 820.5,736.34 828.5,739.09 836.5,734.92 844.5,737.38 852.5,739.35 860.5,734.29 868.5,733.73 876.5,733.15 884.5,739.53 892.5,740.09 900.5,733.56 908.5,727.77 916.5,729.77 924.5,720.04 932.5,702.48 940.5,701.47 948.5,686.10 956.5,710.35 964.5,706.67 972.5,707.75 980.5,706.26 988.5,706.02 996.5,725.85 1004.5,721.15 1012.5,721.82 1020.5,721.82 1028.5,717.66 1036.5,718.20 1044.5,719.60 1052.5,715.49 1060.5,709.25 1068.5,705.59 1076.5,706.21 1084.5,705.82 1092.5,713.90 1100.5,710.70 1108.5,706.97 1116.5,712.32 1124.5,720.41 1132.5,722.06 1140.5,730.79 1148.5,727.65 1156.5,729.93 1164.5,734.58 1172.5,740.79 1180.5,744.23 1188.5,738.97 1196.5,734.32 1204.5,733.59 1212.5,729.93 1220.5,726.88 1228.5,729.20 1236.5,727.68" fill="none" stroke="#1e90ff" stroke-width="1" />
</g>
<text x="8" y="681" font-family="Liberation Sans, Arial, sans-serif" font-size="10" fill="#000" stroke="#000" stroke-width="0.2" textLength="68" lengthAdjust="spacingAndGlyphs">RSI(14) 54.9705</text>
<text x="1422" y="679" font-family="Liberation Sans, Arial, sans-serif" font-size="9.6" fill="#000" stroke="#000" stroke-width="0.2" textLength="16" lengthAdjust="spacingAndGlyphs">100</text>
<text x="1422" y="712" font-family="Liberation Sans, Arial, sans-serif" font-size="9.6" fill="#000" stroke="#000" stroke-width="0.2" textLength="11" lengthAdjust="spacingAndGlyphs">70</text>
<text x="1422" y="763" font-family="Liberation Sans, Arial, sans-serif" font-size="9.6" fill="#000" stroke="#000" stroke-width="0.2" textLength="11" lengthAdjust="spacingAndGlyphs">30</text>
<text x="1422" y="795" font-family="Liberation Sans, Arial, sans-serif" font-size="9.6" fill="#000" stroke="#000" stroke-width="0.2" textLength="5.5" lengthAdjust="spacingAndGlyphs">0</text>
<rect x="1420" y="670" width="1" height="1" fill="#000" />
<rect x="1420" y="797" width="2" height="1" fill="#000" />
<polygon points="4,792 4,798 10,798" fill="#c8c8c8" shape-rendering="auto"/>
<rect x="59" y="40" width="117" height="27" fill="#fff" />
<rect x="7" y="42" width="52" height="25" fill="#0000a0" />
<rect x="7" y="66" width="109" height="40" fill="#0000a0" />
<rect x="8" y="43" width="50" height="24" fill="url(#gh)" />
<rect x="8" y="67" width="107" height="38" fill="url(#gp)" />
<rect x="8" y="66" width="50" height="1" fill="#3c3ce8" />
<rect x="11" y="65" width="44" height="1" fill="#1010a0" />
<rect x="11" y="66" width="44" height="1" fill="#6a6aff" />
<rect x="174" y="42" width="52" height="25" fill="#0000a0" />
<rect x="118" y="66" width="108" height="40" fill="#0000a0" />
<rect x="175" y="43" width="50" height="24" fill="url(#gh)" />
<rect x="119" y="67" width="106" height="38" fill="url(#gp)" />
<rect x="175" y="66" width="50" height="1" fill="#3c3ce8" />
<rect x="178" y="65" width="44" height="1" fill="#1010a0" />
<rect x="178" y="66" width="44" height="1" fill="#6a6aff" />
<rect x="61" y="42" width="111" height="22" fill="#a8a8a8" />
<rect x="62" y="43" width="109" height="20" fill="#fff" />
<rect x="62" y="43" width="20" height="20" fill="#fafafa" />
<rect x="63" y="44" width="18" height="18" fill="url(#gs)" />
<rect x="82" y="43" width="1" height="20" fill="#a8a8a8" />
<rect x="151" y="43" width="20" height="20" fill="#fafafa" />
<rect x="152" y="44" width="18" height="18" fill="url(#gs)" />
<rect x="150" y="43" width="1" height="20" fill="#a8a8a8" />
<polygon points="69,51 75,51 72,54" fill="#5060a0" shape-rendering="auto"/>
<polygon points="158,54 164,54 161,51" fill="#5060a0" shape-rendering="auto"/>
<text x="147" y="57" font-family="Liberation Sans, Arial, sans-serif" font-size="12" fill="#000" text-anchor="end">1.00</text>
<text x="20" y="58" font-family="Liberation Sans, Arial, sans-serif" font-size="12" fill="#fff" textLength="25" lengthAdjust="spacingAndGlyphs">SELL</text>
<text x="188" y="58" font-family="Liberation Sans, Arial, sans-serif" font-size="12" fill="#fff" textLength="23" lengthAdjust="spacingAndGlyphs">BUY</text>
<text x="27" y="97" font-family="Liberation Sans, Arial, sans-serif" font-size="12" font-weight="bold" fill="#fff" textLength="23" lengthAdjust="spacingAndGlyphs">7.11</text>
<text x="55" y="97" font-family="Liberation Sans, Arial, sans-serif" font-size="33" fill="#fff" textLength="33" lengthAdjust="spacingAndGlyphs">22</text>
<text x="94" y="81" font-family="Liberation Sans, Arial, sans-serif" font-size="12" font-weight="bold" fill="#fff">4</text>
<text x="137" y="97" font-family="Liberation Sans, Arial, sans-serif" font-size="12" font-weight="bold" fill="#fff" textLength="23" lengthAdjust="spacingAndGlyphs">7.11</text>
<text x="165" y="97" font-family="Liberation Sans, Arial, sans-serif" font-size="33" fill="#fff" textLength="36" lengthAdjust="spacingAndGlyphs">46</text>
<text x="205.5" y="81" font-family="Liberation Sans, Arial, sans-serif" font-size="12" font-weight="bold" fill="#fff">2</text>
<rect x="0" y="819" width="1462" height="1" fill="#e6e6e6" />
<rect x="0" y="820" width="1462" height="1" fill="#fff" />
<rect x="0" y="821" width="1462" height="1" fill="#000" />
<rect x="0" y="822" width="1462" height="19" fill="#f0f0f0" />
<rect x="0" y="822" width="1462" height="1" fill="#fafafa" />
<rect x="0" y="840" width="1462" height="2" fill="#fafafa" />
<rect x="0" y="842" width="1462" height="1" fill="#e8e8e8" />
<rect x="0" y="822" width="1" height="18" fill="#555" />
<rect x="438" y="821" width="111" height="18" fill="#fff" />
<rect x="437" y="821" width="1" height="19" fill="#000" />
<rect x="548" y="821" width="1" height="19" fill="#000" />
<rect x="437" y="839" width="112" height="1" fill="#000" />
<rect x="113" y="824" width="1" height="14" fill="#555" />
<rect x="221" y="824" width="1" height="14" fill="#555" />
<rect x="329" y="824" width="1" height="14" fill="#555" />
<rect x="669" y="824" width="1" height="14" fill="#555" />
<rect x="777" y="824" width="1" height="14" fill="#555" />
<rect x="873" y="824" width="1" height="14" fill="#555" />
<rect x="953" y="824" width="1" height="14" fill="#555" />
<rect x="1058" y="824" width="1" height="14" fill="#555" />
<rect x="1177" y="824" width="1" height="14" fill="#555" />
<text x="16" y="836" font-family="Liberation Sans, Arial, sans-serif" font-size="12.5" fill="#666" textLength="84" lengthAdjust="spacingAndGlyphs">EURUSD-,Daily</text>
<text x="123" y="836" font-family="Liberation Sans, Arial, sans-serif" font-size="12.5" fill="#666" textLength="86" lengthAdjust="spacingAndGlyphs">AUDUSD-,Daily</text>
<text x="233" y="836" font-family="Liberation Sans, Arial, sans-serif" font-size="12.5" fill="#666" textLength="83" lengthAdjust="spacingAndGlyphs">USDCHF-,Daily</text>
<text x="340" y="836" font-family="Liberation Sans, Arial, sans-serif" font-size="12.5" fill="#666" textLength="85" lengthAdjust="spacingAndGlyphs">USDCAD-,Daily</text>
<text x="449" y="836" font-family="Liberation Sans, Arial, sans-serif" font-size="12.5" fill="#000" textLength="88" lengthAdjust="spacingAndGlyphs">USDCNH-,Daily</text>
<text x="560" y="836" font-family="Liberation Sans, Arial, sans-serif" font-size="12.5" fill="#666" textLength="97" lengthAdjust="spacingAndGlyphs">EURCHF-,Weekly</text>
<text x="680" y="836" font-family="Liberation Sans, Arial, sans-serif" font-size="12.5" fill="#666" textLength="85" lengthAdjust="spacingAndGlyphs">XAUUSD-,Daily</text>
<text x="788" y="836" font-family="Liberation Sans, Arial, sans-serif" font-size="12.5" fill="#666" textLength="72" lengthAdjust="spacingAndGlyphs">GBPUSD-,H1</text>
<text x="884" y="836" font-family="Liberation Sans, Arial, sans-serif" font-size="12.5" fill="#666" textLength="57" lengthAdjust="spacingAndGlyphs">UKOil-,H1</text>
<text x="963" y="836" font-family="Liberation Sans, Arial, sans-serif" font-size="12.5" fill="#666" textLength="83" lengthAdjust="spacingAndGlyphs">USDX-,Weekly</text>
<text x="1068" y="836" font-family="Liberation Sans, Arial, sans-serif" font-size="12.5" fill="#666" textLength="97" lengthAdjust="spacingAndGlyphs">EURCHF-,Weekly</text>
<polygon points="1438,827 1438,833 1435,830" fill="#a0a0a0" shape-rendering="auto"/>
<polygon points="1454,827 1454,833 1457,830" fill="#a0a0a0" shape-rendering="auto"/>
</svg></body></html>
